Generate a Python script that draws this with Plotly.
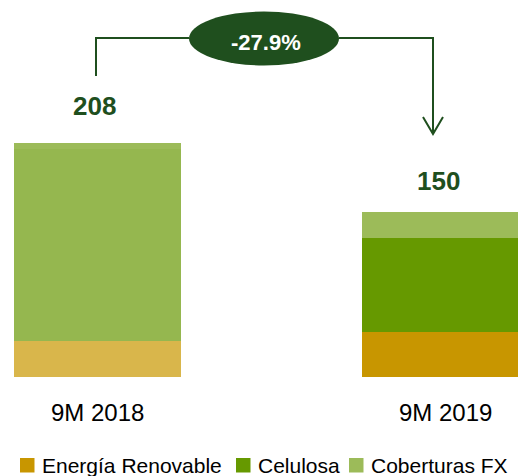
import plotly.graph_objects as go

# ---- data ----
categories = ["9M 2018", "9M 2019"]
energia = [32, 40]
celulosa = [171, 84]
coberturas = [5, 23]
totals = [208, 150]
series_names = ["Energía Renovable", "Celulosa", "Coberturas FX"]
change_label = "-27.9%"

# ---- styles ----
legend_colors = ["#C89600", "#669900", "#9CBB59"]
point_colors = {
    "Energía Renovable": ["#D9B64B", "#C89600"],
    "Celulosa": ["#95B74F", "#669900"],
    "Coberturas FX": ["#9CBB59", "#9CBB59"],
}
DARK = "#1F4F1E"
W, H = 518, 476
PLOT_BOTTOM = 377  # px

fig = go.Figure()
xs = list(range(len(categories)))
for name, vals in zip(series_names, [energia, celulosa, coberturas]):
    fig.add_trace(go.Bar(
        x=xs, y=vals, name=name, width=0.48,
        marker=dict(color=point_colors[name], line=dict(width=0)),
        showlegend=False, hovertemplate="%{y}<extra>" + name + "</extra>",
    ))

def px(xp):
    return xp / W

def py(yp):
    return (PLOT_BOTTOM - yp) / PLOT_BOTTOM

FONT = "Liberation Sans, Arial, sans-serif"
annotations = []
# category labels
for i, c in enumerate(categories):
    annotations.append(dict(
        x=i, xref="x", y=py(412), yref="paper", text=c, showarrow=False,
        xanchor="center", yanchor="middle",
        font=dict(family=FONT, size=24, color="#000000"),
    ))
# totals
xshifts = [-3.5, -7]
yshifts = [20, 14]
for i, t in enumerate(totals):
    annotations.append(dict(
        x=i, xref="x", y=sum([energia[i], celulosa[i], coberturas[i]]), yref="y",
        text=f"<b>{t}</b>", showarrow=False, xanchor="center", yanchor="bottom",
        xshift=xshifts[i], yshift=yshifts[i],
        font=dict(family=FONT, size=26, color=DARK),
    ))
# change label
annotations.append(dict(
    x=px(266), xref="paper", y=py(42), yref="paper", text=f"<b>{change_label}</b>",
    showarrow=False, xanchor="center", yanchor="middle",
    font=dict(family=FONT, size=22, color="#FFFFFF"),
))

shapes = []
# connector lines
path = (f"M {px(96)},{py(76)} L {px(96)},{py(38)} L {px(189)},{py(38)} "
        f"M {px(339)},{py(38)} L {px(433)},{py(38)} L {px(433)},{py(134)} "
        f"M {px(423)},{py(117)} L {px(433)},{py(134)} L {px(443)},{py(117)}")
shapes.append(dict(type="path", xref="paper", yref="paper", path=path,
                   line=dict(color=DARK, width=2)))
shapes.append(dict(type="circle", xref="paper", yref="paper",
                   x0=px(189), x1=px(339), y0=py(65.5), y1=py(11.5),
                   fillcolor=DARK, line=dict(width=0), layer="below"))

# custom legend
leg_sq_x = [20, 236, 349]
for name, color, sx in zip(series_names, legend_colors, leg_sq_x):
    shapes.append(dict(type="rect", xref="paper", yref="paper",
                       x0=px(sx), x1=px(sx + 14.5), y0=py(472.5), y1=py(458),
                       fillcolor=color, line=dict(width=0)))
    annotations.append(dict(
        x=px(sx + 20), xref="paper", y=py(465), yref="paper", text=name,
        showarrow=False, xanchor="left", yanchor="middle",
        font=dict(family=FONT, size=21, color="#000000"),
    ))

fig.update_layout(
    width=W, height=H,
    margin=dict(l=0, r=0, t=0, b=H - PLOT_BOTTOM, pad=0),
    paper_bgcolor="white", plot_bgcolor="white",
    barmode="stack",
    xaxis=dict(range=[-97.5 / 348, (518 - 97.5) / 348], visible=False, fixedrange=True),
    yaxis=dict(range=[0, PLOT_BOTTOM / 1.1236], visible=False, fixedrange=True),
    annotations=annotations, shapes=shapes, showlegend=False,
)

fig.write_html(
    "out.html",
    config={"displayModeBar": False},
    post_script="document.body.style.margin='0';document.body.style.overflow='hidden';",
)
